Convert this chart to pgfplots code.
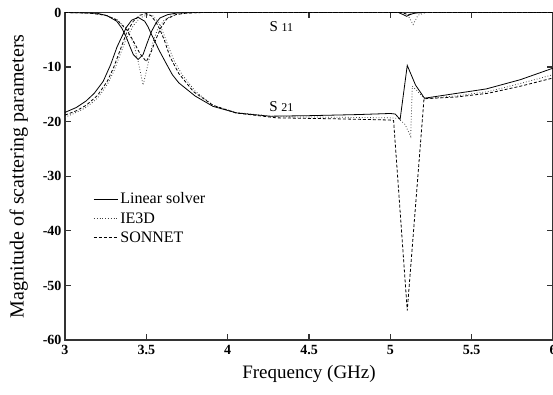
\documentclass[border=0pt]{standalone}
\usepackage{fontspec}
\setmainfont{Liberation Serif}
\usepackage{pgfplots}
\pgfplotsset{compat=1.18}
\begin{document}
\begin{tikzpicture}
\begin{axis}[
  scale only axis,
  width=488pt, height=327.5pt,
  xmin=3, xmax=6, ymin=-60, ymax=0,
  xtick={3,3.5,4,4.5,5,5.5,6},
  xticklabels={3,3.5,4,4.5,5,5.5,6},
  ytick={-60,-50,-40,-30,-20,-10,0},
  yticklabels={-60,-50,-40,-30,-20,-10,0},
  tick align=inside,
  major tick length=6pt,
  axis line style={line width=1.4pt, black!80},
  every tick/.style={line width=1.2pt, black!80},
  tick label style={font=\bfseries\fontsize{14}{14}\selectfont},
  xticklabel style={yshift=-2pt},
  xlabel={Frequency (GHz)},
  ylabel={Magnitude of scattering parameters},
  xlabel style={font=\fontsize{19}{19}\selectfont, yshift=-3pt},
  ylabel style={font=\fontsize{20}{20}\selectfont},
  ylabel shift=8pt,
  legend style={draw=none, fill=none, at={(rel axis cs:0.052,0.462)}, anchor=north west,
    font=\fontsize{16}{16}\selectfont, row sep=3pt},
  legend cell align=left,
  legend image code/.code={\draw[#1] (0pt,0pt) -- (20pt,0pt); \path (0pt,0pt) -- (24pt,0pt);},
]
% Linear solver
\addplot[black, line width=0.8pt] coordinates {
(3.0,-18.3) (3.07,-17.4) (3.13,-16.2) (3.18,-14.8) (3.235,-12.6) (3.28,-9.6) (3.32,-6.3) (3.35,-4.4) (3.38,-2.6) (3.41,-1.4) (3.45,-0.9) (3.49,-1.6) (3.51,-2.6) (3.533,-4.1) (3.58,-7.0) (3.625,-9.5) (3.66,-11.4) (3.7,-12.9) (3.8,-15.3) (3.91,-17.2) (4.055,-18.4) (4.26,-19.0) (4.5,-18.9) (4.8,-18.7) (5.0,-18.5) (5.03,-18.6) (5.06,-19.6) (5.104,-9.7) (5.155,-13.3) (5.21,-15.7) (5.59,-14.0) (5.8,-12.3) (6.0,-10.2)
};
\addlegendentry{Linear solver}
% IE3D
\addplot[black!75, line width=0.8pt, dotted] coordinates {
(3.0,-19.2) (3.07,-18.3) (3.13,-17.4) (3.2,-15.7) (3.26,-13.2) (3.3,-10.8) (3.34,-7.6) (3.38,-4.6) (3.42,-2.4) (3.46,-1.0) (3.51,-0.4) (3.54,-0.6) (3.57,-1.6) (3.6,-3.4) (3.63,-5.8) (3.67,-8.8) (3.72,-11.4) (3.8,-14.4) (3.91,-17.0) (4.05,-18.3) (4.3,-19.1) (4.7,-19.2) (5.0,-19.3) (5.05,-19.4) (5.09,-20.5) (5.125,-22.7) (5.135,-13.5) (5.16,-14.2) (5.21,-15.8) (5.4,-15.3) (5.6,-14.5) (5.8,-13.0) (6.0,-11.4)
};
\addlegendentry{IE3D}
% SONNET
\addplot[black, line width=0.8pt, dash pattern=on 3pt off 2pt] coordinates {
(3.0,-18.8) (3.07,-18.0) (3.13,-17.0) (3.2,-15.2) (3.26,-12.6) (3.3,-10) (3.34,-6.8) (3.38,-3.6) (3.42,-1.6) (3.46,-0.5) (3.5,-0.2) (3.53,-0.6) (3.56,-1.8) (3.58,-2.9) (3.61,-5.0) (3.645,-8.1) (3.7,-11.2) (3.79,-14.5) (3.91,-17.0) (4.05,-18.4) (4.3,-19.3) (4.7,-19.5) (5.0,-19.7) (5.02,-19.8) (5.104,-54.6) (5.207,-15.8) (5.4,-15.5) (5.6,-14.8) (5.8,-13.5) (6.0,-12.0)
};
\addlegendentry{SONNET}
% S11 curves
\addplot[black, line width=0.8pt, forget plot] coordinates {
(3.0,0) (3.1,-0.05) (3.2,-0.15) (3.26,-0.6) (3.318,-1.6) (3.35,-2.9) (3.379,-4.7) (3.40,-6.3) (3.42,-7.7) (3.45,-8.6) (3.48,-7.7) (3.505,-5.6) (3.533,-3.4) (3.56,-1.9) (3.584,-1.0) (3.63,-0.4) (3.687,-0.1) (3.8,0) (5.05,0) (5.08,-0.4) (5.1,-0.7) (5.12,-0.4) (5.15,-0.1) (5.2,0) (6,0)
};
\addplot[black!75, line width=0.8pt, dotted, forget plot] coordinates {
(3.0,0) (3.15,-0.1) (3.25,-0.5) (3.32,-1.3) (3.38,-3.0) (3.42,-5.5) (3.45,-9) (3.48,-13.3) (3.51,-9.5) (3.54,-5.5) (3.57,-3.0) (3.61,-1.4) (3.66,-0.5) (3.73,-0.1) (3.85,0) (5.08,0) (5.11,-0.6) (5.14,-2.2) (5.17,-0.5) (5.22,0) (6,0)
};
\addplot[black, line width=0.8pt, dash pattern=on 3pt off 2pt, forget plot] coordinates {
(3.0,0) (3.15,-0.1) (3.25,-0.5) (3.32,-1.4) (3.38,-3.2) (3.42,-5.2) (3.46,-7.5) (3.50,-9.0) (3.53,-7.2) (3.56,-4.8) (3.59,-2.8) (3.625,-1.2) (3.68,-0.4) (3.75,-0.1) (3.85,0) (5.07,0) (5.11,-0.4) (5.15,-0.1) (5.2,0) (6,0)
};
\node at (axis cs:4.33,-2.6) {\fontsize{15}{15}\selectfont S \fontsize{12}{12}\selectfont 11};
\node at (axis cs:4.33,-17.3) {\fontsize{15}{15}\selectfont S \fontsize{12}{12}\selectfont 21};
\coordinate (A) at (rel axis cs:0,0);
\coordinate (B) at (rel axis cs:1,1);
\end{axis}
\pgfresetboundingbox
\path[use as bounding box] ([shift={(-65pt,-55pt)}]A) rectangle ([shift={(0pt,12.5pt)}]B);
\end{tikzpicture}
\end{document}
